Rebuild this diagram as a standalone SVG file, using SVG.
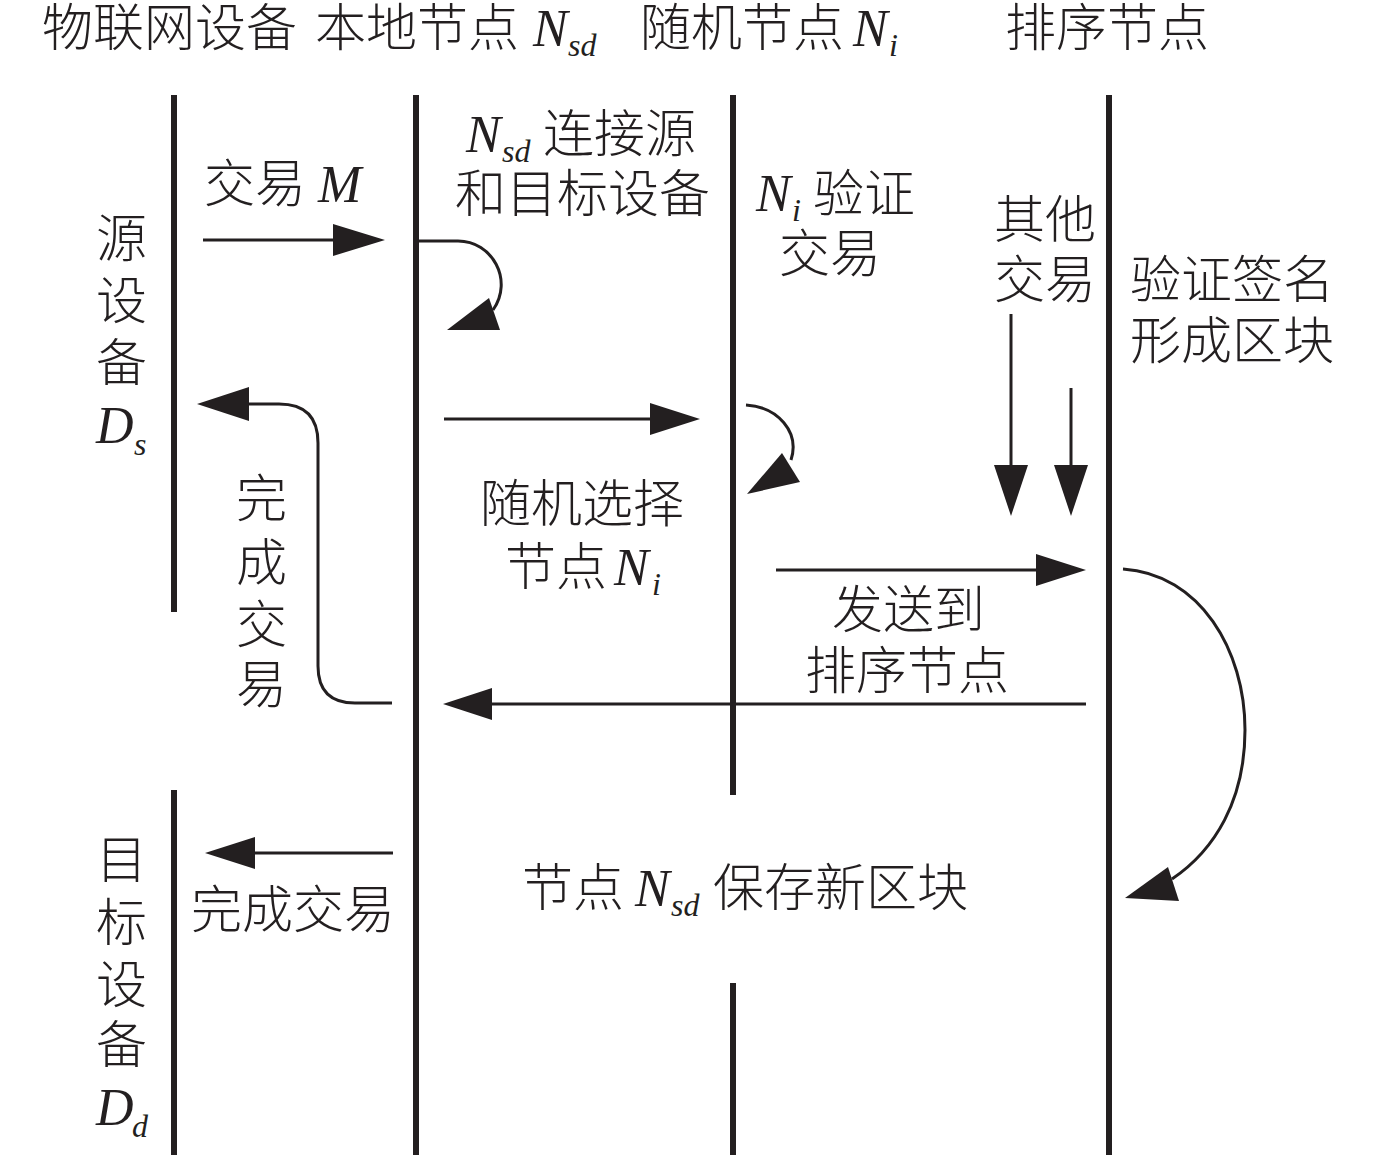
<svg xmlns="http://www.w3.org/2000/svg" width="1378" height="1156" viewBox="0 0 1378 1156">
<style>
.cjk{font-family:"Noto Sans CJK SC","Noto Sans CJK JP",sans-serif;font-size:51px;font-weight:300;fill:#231f20}
.it{font-family:"Liberation Serif",serif;font-style:italic;font-size:52px;fill:#231f20}
.sub{font-family:"Liberation Serif",serif;font-style:italic;font-size:32px;fill:#231f20}
.life{stroke:#231f20;stroke-width:6;fill:none}
.ln{stroke:#231f20;stroke-width:3;fill:none}
.hd{fill:#231f20}
</style>
<rect width="1378" height="1156" fill="#fff"/>
<g id="header">
<text class="cjk" x="42" y="46">物联网设备</text>
<text class="cjk" x="315" y="46">本地节点</text>
<text class="it" x="533" y="46">N</text><text class="sub" x="568" y="56">sd</text>
<text class="cjk" x="640" y="46">随机节点</text>
<text class="it" x="853" y="46">N</text><text class="sub" x="889" y="56">i</text>
<text class="cjk" x="1005" y="46">排序节点</text>
</g>
<g id="source-device">
<line class="life" x1="174" y1="95" x2="174" y2="612"/>
<text class="cjk" x="96" y="257">源</text>
<text class="cjk" x="96" y="319">设</text>
<text class="cjk" x="96" y="381">备</text>
<text class="it" x="96" y="443">D</text><text class="sub" x="134" y="455">s</text>
</g>
<g id="target-device">
<line class="life" x1="174" y1="790" x2="174" y2="1155"/>
<text class="cjk" x="96" y="878">目</text>
<text class="cjk" x="96" y="941">标</text>
<text class="cjk" x="96" y="1003">设</text>
<text class="cjk" x="96" y="1063">备</text>
<text class="it" x="96" y="1125">D</text><text class="sub" x="132" y="1137">d</text>
</g>
<g id="local-node">
<line class="life" x1="416" y1="95" x2="416" y2="1155"/>
<text class="it" x="466" y="152">N</text><text class="sub" x="502" y="162">sd</text>
<text class="cjk" x="543" y="152">连接源</text>
<text class="cjk" x="455" y="212">和目标设备</text>
</g>
<g id="random-node">
<line class="life" x1="733" y1="95" x2="733" y2="795"/>
<line class="life" x1="733" y1="983" x2="733" y2="1155"/>
<text class="it" x="756" y="211">N</text><text class="sub" x="792" y="221">i</text>
<text class="cjk" x="813" y="212">验证</text>
<text class="cjk" x="779" y="272">交易</text>
</g>
<g id="orderer-node">
<line class="life" x1="1109" y1="95" x2="1109" y2="1155"/>
<text class="cjk" x="994" y="238">其他</text>
<text class="cjk" x="994" y="298">交易</text>
<text class="cjk" x="1130" y="298">验证签名</text>
<text class="cjk" x="1130" y="359">形成区块</text>
</g>
<g id="connectors">
<line class="ln" x1="203" y1="240" x2="336" y2="240"/>
<polygon class="hd" points="333,224 385,240 333,256"/>
<text class="cjk" x="204" y="202">交易</text>
<text class="it" x="318" y="202">M</text>

<path class="ln" d="M419,241 H458 C492,241 514,280 493,310"/>
<polygon class="hd" points="447,330 489,298 500,330"/>

<line class="ln" x1="444" y1="419" x2="652" y2="419"/>
<polygon class="hd" points="650,403 700,419 650,435"/>
<text class="cjk" x="480" y="522">随机选择</text>
<text class="cjk" x="505" y="585">节点</text>
<text class="it" x="614" y="585">N</text><text class="sub" x="652" y="595">i</text>

<path class="ln" d="M746,405 C778,407 800,432 791,460"/>
<polygon class="hd" points="747,494 782,453 800,482"/>

<line class="ln" x1="776" y1="570" x2="1038" y2="570"/>
<polygon class="hd" points="1036,554 1086,570 1036,586"/>
<text class="cjk" x="832" y="628">发送到</text>
<text class="cjk" x="805" y="689">排序节点</text>

<line class="ln" x1="1011" y1="314" x2="1011" y2="467"/>
<polygon class="hd" points="994,465 1011,516 1028,465"/>
<line class="ln" x1="1071" y1="388" x2="1071" y2="467"/>
<polygon class="hd" points="1054,465 1071,516 1088,465"/>

<line class="ln" x1="1086" y1="704" x2="490" y2="704"/>
<polygon class="hd" points="492,688 443,704 492,720"/>

<path class="ln" d="M392,703 H355 Q318,703 318,666 V443 Q318,404 279,404 H245"/>
<polygon class="hd" points="197,404 249,387 249,421"/>
<text class="cjk" x="236" y="517">完</text>
<text class="cjk" x="236" y="581">成</text>
<text class="cjk" x="236" y="643">交</text>
<text class="cjk" x="236" y="703">易</text>

<path class="ln" d="M1123,569 C1200,574 1245,650 1245,730 C1245,800 1215,850 1172,879"/>
<polygon class="hd" points="1125,898 1168,867 1179,901"/>
<text class="cjk" x="522" y="906">节点</text>
<text class="it" x="635" y="906">N</text><text class="sub" x="671" y="916">sd</text>
<text class="cjk" x="713" y="906">保存新区块</text>

<line class="ln" x1="393" y1="853" x2="253" y2="853"/>
<polygon class="hd" points="255,837 205,853 255,869"/>
<text class="cjk" x="191" y="928">完成交易</text>
</g>
</svg>
